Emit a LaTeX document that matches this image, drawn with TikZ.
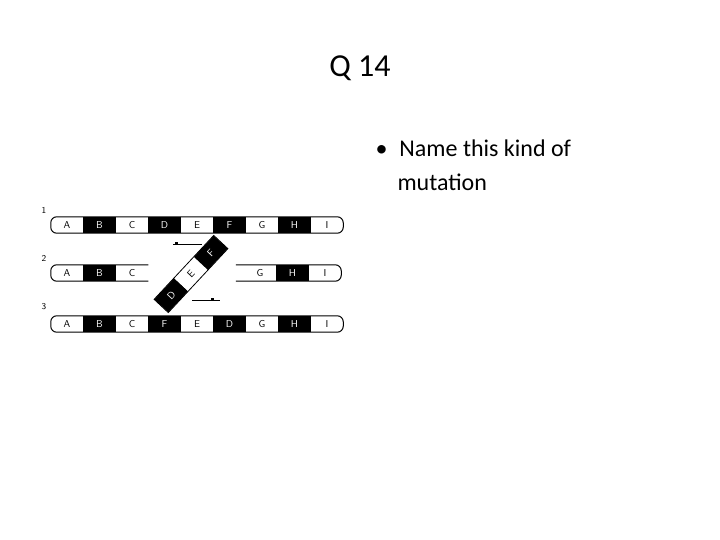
\documentclass[tikz,border=0pt]{standalone}
\usepackage{fontspec}
\setmainfont{Carlito}
\usetikzlibrary{positioning}
\tikzset{
  seg/.style={minimum width=32.1pt, minimum height=16pt, inner sep=0pt, font=\sffamily},
  segw/.style={seg, fill=white},
  segb/.style={seg, fill=black, text=white},
  chrom/.style={draw, line width=1pt, rounded corners=6pt},
  move/.style={line width=0.6pt}
}
\begin{document}
\begin{tikzpicture}[x=1pt,y=-1pt]
  \useasboundingbox (0,0) rectangle (720,540);
  % title and question
  \node[font=\fontsize{32}{38}\selectfont] (title) at (360,68) {Q 14};
  \node[font=\fontsize{24}{34}\selectfont, align=left, anchor=north west] (question) at (372,136)
    {\textbullet\hspace{12pt}Name this kind of\\\hspace{22pt}mutation};

  % row numbers
  \node[font=\sffamily\small] (n1) at (44,210) {1};
  \node[font=\sffamily\small] (n2) at (44,258) {2};
  \node[font=\sffamily\small] (n3) at (44,307) {3};

  % chromosome 1
  \node[segw] (a1) at (67,225) {A};
  \foreach \l/\t/\s [remember=\l as \p (initially a)] in {b/B/segb,c/C/segw,d/D/segb,e/E/segw,f/F/segb,g/G/segw,h/H/segb,i/I/segw}
    \node[\s, right=0pt of \p1] (\l1) {\t};
  \draw[chrom] (a1.north west) rectangle (i1.south east);

  % chromosome 3 (inverted)
  \node[segw] (a3) at (67,324) {A};
  \foreach \l/\t/\s [remember=\l as \p (initially a)] in {b/B/segb,c/C/segw,f/F/segb,e/E/segw,d/D/segb,g/G/segw,h/H/segb,i/I/segw}
    \node[\s, right=0pt of \p3] (\l3) {\t};
  \draw[chrom] (a3.north west) rectangle (i3.south east);

  % chromosome 2 (broken)
  \node[segw] (a2) at (67,273) {A};
  \node[segb, right=0pt of a2] (b2) {B};
  \node[segw, right=0pt of b2] (c2) {C};
  \node[segw] (g2) at (260,273) {G};
  \node[segb, right=0pt of g2] (h2) {H};
  \node[segw, right=0pt of h2] (i2) {I};
  \draw[chrom] (c2.north east) -- (a2.north west) -- (a2.south west) -- (c2.south east);
  \draw[chrom] ([xshift=-8pt]g2.north west) -- (i2.north east) -- (i2.south east) -- ([xshift=-8pt]g2.south west);

  % excised piece
  \begin{scope}[shift={(191,274)}, rotate=47]
    \node[segb, minimum width=29pt, minimum height=19pt, rotate=47] (d2) at (-29,0) {D};
    \node[segw, minimum width=29pt, minimum height=19pt, rotate=47] (e2) at (0,0) {E};
    \node[segb, minimum width=29pt, minimum height=19pt, rotate=47] (f2) at (29,0) {F};
  \end{scope}
  \draw[line width=0.8pt] (d2.north west) -- (f2.north east) -- (f2.south east) -- (d2.south west) -- cycle;

  % rotation marks
  \coordinate (m1l) at (173,244);
  \coordinate (m1r) at (202,244);
  \coordinate (m2l) at (192,300);
  \coordinate (m2r) at (220,300);
  \draw[move] (m1l) -- (m1r);
  \fill ([xshift=2pt]m1l) rectangle ++(3,-2.5);
  \draw[move] (m2l) -- (m2r);
  \fill ([xshift=-9pt]m2r) rectangle ++(3,-2.5);
\end{tikzpicture}
\end{document}
